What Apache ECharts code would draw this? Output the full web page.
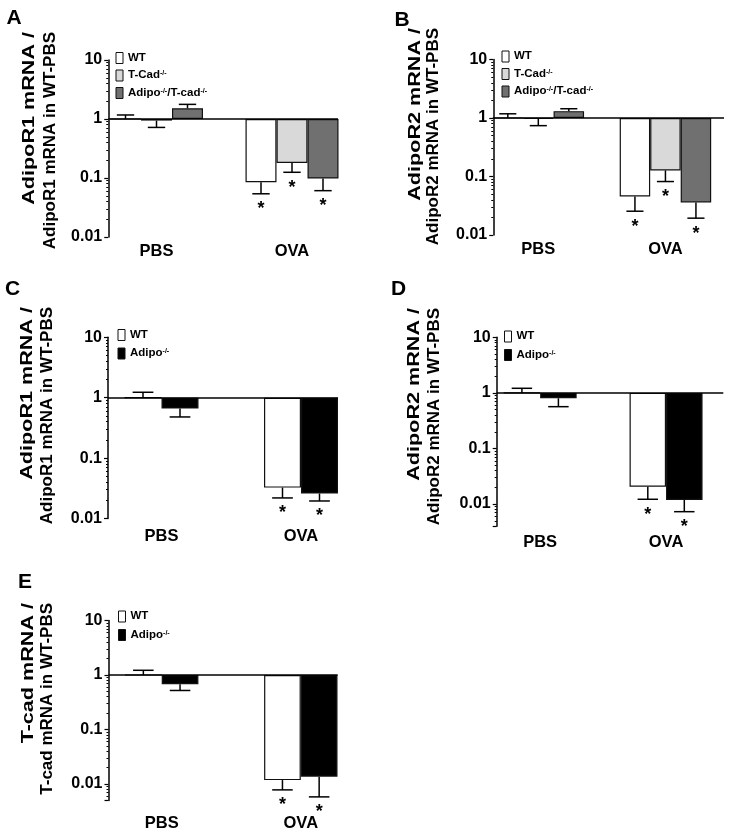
<!DOCTYPE html>
<html>
<head>
<meta charset="utf-8">
<script src="https://cdn.jsdelivr.net/npm/echarts@6.0.0/dist/echarts.min.js"></script>
<style>
html,body{margin:0;padding:0;background:#fff;}
#chart{width:729px;height:833px;}
</style>
</head>
<body>
<div id="chart"></div>
<script>
// ---------- data ----------
const categories = ['PBS', 'OVA'];
const yTickLabels = ['0.01', '0.1', '1', '10'];
const sigMarks = ['', '*'];

// Panel A (AdipoR1)
const A_WT = [1.0, 0.085];      const A_WT_err = [1.17, 0.054];
const A_TCad = [0.94, 0.18];    const A_TCad_err = [0.72, 0.125];
const A_Dbl = [1.52, 0.098];    const A_Dbl_err = [1.77, 0.061];
// Panel B (AdipoR2)
const B_WT = [1.0, 0.0455];     const B_WT_err = [1.18, 0.0255];
const B_TCad = [0.97, 0.127];   const B_TCad_err = [0.74, 0.082];
const B_Dbl = [1.31, 0.036];    const B_Dbl_err = [1.44, 0.0194];
// Panel C (AdipoR1)
const C_WT = [1.0, 0.0325];     const C_WT_err = [1.23, 0.0219];
const C_Adipo = [0.66, 0.0259]; const C_Adipo_err = [0.48, 0.0195];
// Panel D (AdipoR2)
const D_WT = [1.0, 0.0206];     const D_WT_err = [1.21, 0.0122];
const D_Adipo = [0.80, 0.0119]; const D_Adipo_err = [0.565, 0.0073];
// Panel E (T-cad)
const E_WT = [1.0, 0.0118];     const E_WT_err = [1.22, 0.0078];
const E_Adipo = [0.68, 0.0136]; const E_Adipo_err = [0.52, 0.0058];

const titlesA = ['AdipoR1 mRNA /', 'AdipoR1 mRNA in WT-PBS'];
const titlesB = ['AdipoR2 mRNA /', 'AdipoR2 mRNA in WT-PBS'];
const titlesE = ['T-cad mRNA /', 'T-cad mRNA in WT-PBS'];

// ---------- styles / layout ----------
const FONT = '"Liberation Sans", Arial, Helvetica, sans-serif';
const COL = { 'WT': '#ffffff', 'T-Cad-/-': '#d9d9d9', 'Adipo-/-/T-cad-/-': '#707070', 'Adipo-/-': '#000000' };

const panels = [
  { letter: 'A', letterPos: [14, 18], titles: titlesA, titleX: [29.5, 50], titleTop: 32,
    grid: { left: 88.75, top: 60, width: 271, height: 177 }, yMin: 0.01, axisOffset: -19.5,
    barWidth: 31, lineX: [108.25, 338], labelMargin: 6,
    legend: { left: 115.5, top: 51.5, gap: 5 },
    series: [['WT', A_WT, A_WT_err], ['T-Cad-/-', A_TCad, A_TCad_err], ['Adipo-/-/T-cad-/-', A_Dbl, A_Dbl_err]] },
  { letter: 'B', letterPos: [402, 20], titles: titlesB, titleX: [415, 433], titleTop: 28,
    grid: { left: 474.75, top: 59.5, width: 271, height: 175.5 }, yMin: 0.01, axisOffset: -18.5,
    barWidth: 30.5, lineX: [493.25, 724], labelMargin: 6,
    legend: { left: 501.5, top: 50, gap: 5 },
    series: [['WT', B_WT, B_WT_err], ['T-Cad-/-', B_TCad, B_TCad_err], ['Adipo-/-/T-cad-/-', B_Dbl, B_Dbl_err]] },
  { letter: 'C', letterPos: [12.5, 289], titles: titlesA, titleX: [27.5, 47.5], titleTop: 307,
    grid: { left: 91.75, top: 337.3, width: 279, height: 181.2 }, yMin: 0.01, axisOffset: -16.25,
    barWidth: 37, lineX: [108, 338], labelMargin: 9,
    legend: { left: 117.5, top: 328.5, gap: 6 },
    series: [['WT', C_WT, C_WT_err], ['Adipo-/-', C_Adipo, C_Adipo_err]] },
  { letter: 'D', letterPos: [398.5, 289], titles: titlesB, titleX: [414.5, 434.5], titleTop: 308,
    grid: { left: 477.2, top: 337.3, width: 279.4, height: 188.9 }, yMin: 0.004, axisOffset: -19.5,
    barWidth: 36.5, lineX: [496.7, 723.3], labelMargin: 8,
    legend: { left: 504, top: 330, gap: 6 },
    series: [['WT', D_WT, D_WT_err], ['Adipo-/-', D_Adipo, D_Adipo_err]] },
  { letter: 'E', letterPos: [25, 582], titles: titlesE, titleX: [28.5, 47.5], titleTop: 603,
    grid: { left: 92.15, top: 620.5, width: 278.2, height: 179.9 }, yMin: 0.005, axisOffset: -16.35,
    barWidth: 36.7, lineX: [108.5, 337.7], labelMargin: 15,
    legend: { left: 118, top: 610, gap: 6 },
    series: [['WT', E_WT, E_WT_err], ['Adipo-/-', E_Adipo, E_Adipo_err]] }
];

function legendFormatter(name) {
  if (name === 'WT') return '{t|WT}';
  if (name === 'T-Cad-/-') return '{t|T-Cad}{s|-/-}';
  if (name === 'Adipo-/-') return '{t|Adipo}{s|-/-}';
  if (name === 'Adipo-/-/T-cad-/-') return '{t|Adipo}{s|-/-}{t|/T-cad}{s|-/-}';
  return name;
}

function yLabel(v) {
  const lg = Math.log10(v);
  const r = Math.round(lg);
  if (Math.abs(lg - r) > 1e-6) return '';
  return yTickLabels[r + 2] || '';
}

function makeErrRender(slot, n, bw) {
  return function (params, api) {
    const cat = api.value(0);
    const pm = api.coord([cat, api.value(1)]);
    const pe = api.coord([cat, api.value(2)]);
    const cx = pm[0] + (slot - (n - 1) / 2) * bw;
    const hw = bw * 0.28;
    const children = [
      { type: 'line', shape: { x1: cx, y1: pm[1], x2: cx, y2: pe[1] }, style: { stroke: '#000', lineWidth: 1.5 } },
      { type: 'line', shape: { x1: cx - hw, y1: pe[1], x2: cx + hw, y2: pe[1] }, style: { stroke: '#000', lineWidth: 1.5 } }
    ];
    const mark = sigMarks[cat];
    if (mark) {
      children.push({ type: 'text', x: cx, y: pe[1] + 15.5,
        style: { text: mark, font: 'bold 18px ' + FONT, fill: '#000', align: 'center', verticalAlign: 'middle' } });
    }
    return { type: 'group', children: children };
  };
}

const option = { animation: false, backgroundColor: '#ffffff', grid: [], xAxis: [], yAxis: [], series: [], legend: [], graphic: [] };

panels.forEach(function (p, i) {
  option.grid.push({ left: p.grid.left, top: p.grid.top, width: p.grid.width, height: p.grid.height });
  option.xAxis.push({
    type: 'category', gridIndex: i, data: categories,
    axisLine: { show: false }, axisTick: { show: false }, splitLine: { show: false },
    axisLabel: { fontFamily: FONT, fontWeight: 'bold', fontSize: 16.5, color: '#000', margin: p.labelMargin }
  });
  option.yAxis.push({
    type: 'log', logBase: 10, gridIndex: i, min: p.yMin, max: 10, offset: p.axisOffset,
    axisLine: { show: true, lineStyle: { color: '#000', width: 1.5 } },
    axisTick: { show: true, length: 4, lineStyle: { color: '#000', width: 1.2 } },
    minorTick: { show: true, splitNumber: 9, length: 2, lineStyle: { color: '#000', width: 1 } },
    splitLine: { show: false }, minorSplitLine: { show: false },
    axisLabel: { formatter: yLabel, fontFamily: FONT, fontWeight: 'bold', fontSize: 16, color: '#000', margin: 6 }
  });
  const n = p.series.length;
  p.series.forEach(function (s, k) {
    const bar = {
      type: 'bar', name: s[0], xAxisIndex: i, yAxisIndex: i, data: s[1],
      barWidth: p.barWidth, barGap: '0%', silent: true,
      itemStyle: { color: COL[s[0]], borderColor: '#111', borderWidth: 1.2 }
    };
    if (k === 0) {
      bar.markLine = {
        silent: true, symbol: 'none', animation: false, label: { show: false },
        lineStyle: { color: '#000', width: 1.5, type: 'solid' },
        data: [[{ x: p.lineX[0], yAxis: 1 }, { x: p.lineX[1], yAxis: 1 }]]
      };
    }
    option.series.push(bar);
    option.series.push({
      type: 'custom', xAxisIndex: i, yAxisIndex: i, silent: true, z: 3,
      data: s[1].map(function (v, j) { return [j, v, s[2][j]]; }),
      renderItem: makeErrRender(k, n, p.barWidth)
    });
  });
  option.legend.push({
    data: p.series.map(function (s) { return s[0]; }),
    left: p.legend.left, top: p.legend.top, orient: 'vertical', padding: 0,
    itemWidth: 7, itemHeight: 11, itemGap: p.legend.gap, icon: 'rect', selectedMode: false,
    itemStyle: { borderColor: '#111', borderWidth: 1 },
    formatter: legendFormatter,
    textStyle: {
      color: '#000', fontFamily: FONT, fontWeight: 'bold', fontSize: 11.5, lineHeight: 11,
      rich: {
        t: { fontFamily: FONT, fontWeight: 'bold', fontSize: 11.5, color: '#000', lineHeight: 11, verticalAlign: 'bottom' },
        s: { fontFamily: FONT, fontWeight: 'bold', fontSize: 7, color: '#000', lineHeight: 7, verticalAlign: 'top' }
      }
    }
  });
  option.graphic.push({ type: 'text', x: p.letterPos[0], y: p.letterPos[1],
    style: { text: p.letter, font: 'bold 21px ' + FONT, fill: '#000', align: 'center', verticalAlign: 'middle' } });
  p.titles.forEach(function (t, m) {
    option.graphic.push({ type: 'text', x: p.titleX[m], y: p.titleTop, rotation: Math.PI / 2,
      scaleX: m === 0 ? 1.27 : 1.0,
      style: { text: t, font: 'bold 17px ' + FONT, fill: '#000', align: 'right', verticalAlign: 'middle' } });
  });
});

const chart = echarts.init(document.getElementById('chart'), null, { renderer: 'canvas' });
chart.setOption(option);
</script>
</body>
</html>
